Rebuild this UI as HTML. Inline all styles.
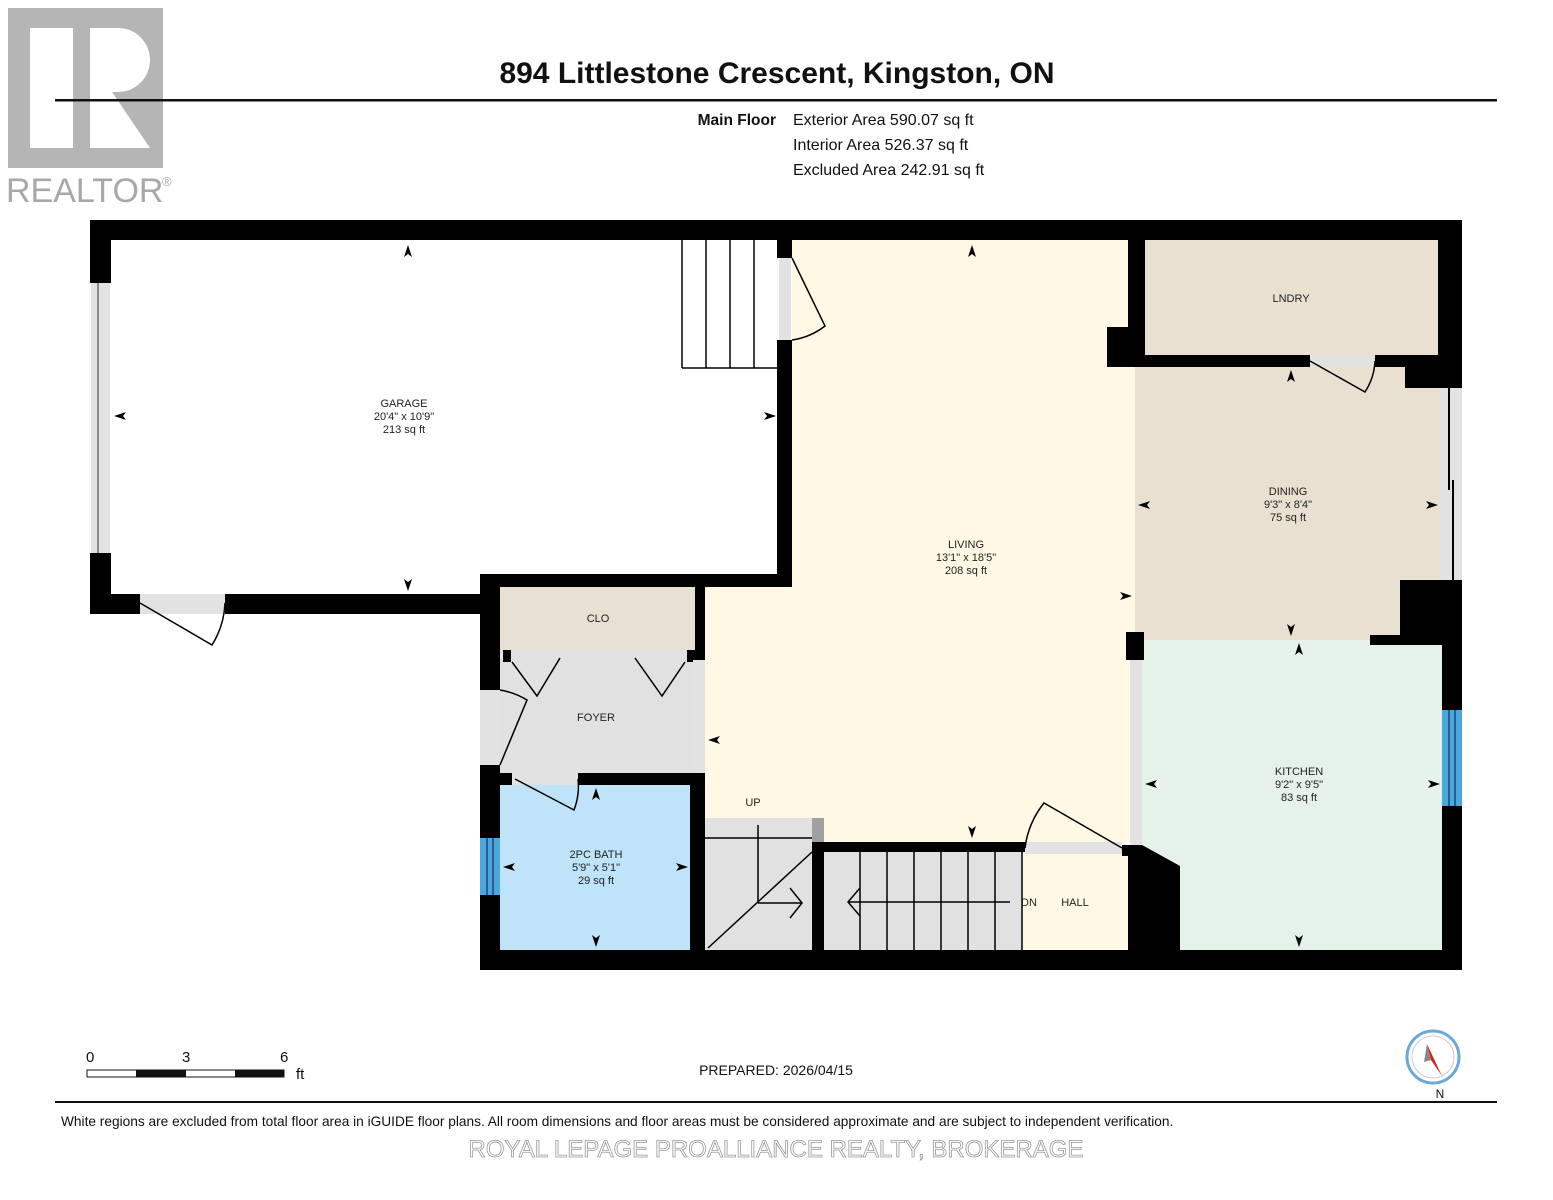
<!DOCTYPE html>
<html><head><meta charset="utf-8"><style>
body{margin:0;background:#fff;}
svg{display:block;font-family:"Liberation Sans",Arial,sans-serif;}
</style></head><body>
<svg width="1553" height="1200" viewBox="0 0 1553 1200" xmlns="http://www.w3.org/2000/svg">
<!-- realtor logo -->
<rect x="8" y="8" width="155" height="160" fill="#b5b5b5"/>
<rect x="30" y="28" width="43" height="120" fill="#fff"/>
<path d="M90 28 H118 A32 32 0 0 1 118 92 H112 L150 148 H90 Z" fill="#fff"/>
<text x="6" y="202" font-size="34" fill="#a8a8a8">REALTOR</text>
<text x="162" y="186" font-size="13" fill="#a8a8a8">®</text>
<text x="777" y="83" font-size="30" font-weight="bold" text-anchor="middle" fill="#111">894 Littlestone Crescent, Kingston, ON</text>
<rect x="55" y="99" width="1442" height="2.5" fill="#111"/>
<text x="776" y="125" font-size="15.5" font-weight="bold" text-anchor="end" fill="#111">Main Floor</text>
<text x="793" y="125" font-size="16" fill="#111">Exterior Area 590.07 sq ft</text>
<text x="793" y="150" font-size="16" fill="#111">Interior Area 526.37 sq ft</text>
<text x="793" y="175" font-size="16" fill="#111">Excluded Area 242.91 sq ft</text>

<!-- room fills -->
<rect x="792" y="240" width="343" height="602" fill="#fef8e5"/>
<rect x="705" y="584" width="430" height="258" fill="#fef8e5"/>
<rect x="1022" y="852" width="106" height="98" fill="#fef8e5"/>
<rect x="1145" y="240" width="293" height="115" fill="#e9e0d2"/>
<rect x="1135" y="367" width="305" height="273" fill="#e9e0d2"/>
<rect x="1142" y="640" width="300" height="310" fill="#e5f2ea"/>
<rect x="500" y="587" width="195" height="63" fill="#e8e0d2"/>
<rect x="500" y="650" width="195" height="123" fill="#e1e1e1"/>
<rect x="500" y="785" width="190" height="165" fill="#bfe3f9"/>
<rect x="705" y="818" width="107" height="132" fill="#e1e1e1"/>
<rect x="824" y="852" width="198" height="98" fill="#e1e1e1"/>

<!-- walls -->
<g fill="#000">
<rect x="90" y="220" width="1372" height="20"/>
<rect x="90" y="220" width="21" height="63"/>
<rect x="90" y="553" width="21" height="61"/>
<rect x="90" y="594" width="50" height="20"/>
<rect x="225" y="594" width="259" height="20"/>
<rect x="777" y="240" width="15" height="18"/>
<rect x="777" y="340" width="15" height="244"/>
<rect x="484" y="574" width="308" height="13"/>
<rect x="480" y="574" width="20" height="116"/>
<rect x="480" y="765" width="20" height="73"/>
<rect x="480" y="895" width="20" height="75"/>
<rect x="695" y="584" width="10" height="76"/>
<rect x="480" y="773" width="32" height="12"/>
<rect x="578" y="773" width="127" height="12"/>
<rect x="690" y="773" width="15" height="197"/>
<rect x="480" y="950" width="982" height="20"/>
<rect x="812" y="842" width="213" height="10"/>
<rect x="812" y="842" width="12" height="108"/>
<rect x="1128" y="240" width="17" height="125"/>
<rect x="1107" y="327" width="38" height="38"/>
<rect x="1107" y="355" width="203" height="12"/>
<rect x="1375" y="355" width="30" height="12"/>
<rect x="1438" y="220" width="24" height="168"/>
<rect x="1405" y="355" width="57" height="33"/>
<rect x="1400" y="580" width="62" height="65"/>
<rect x="1370" y="635" width="70" height="10"/>
<rect x="1442" y="645" width="20" height="65"/>
<rect x="1442" y="806" width="20" height="150"/>
<rect x="1126" y="632" width="18" height="28"/>
<path d="M1122 845 H1142 L1180 866 V950 H1128 V856 H1122 Z"/>
<rect x="503" y="650" width="8" height="12"/>
<rect x="687" y="650" width="8" height="12"/>
</g>
<!-- windows / openings -->
<rect x="91" y="283" width="19" height="270" fill="#e2e2e2"/><line x1="98" y1="283" x2="98" y2="553" stroke="#333" stroke-width="1"/>
<rect x="140" y="594" width="85" height="20" fill="#e2e2e2"/>
<rect x="779" y="258" width="12" height="82" fill="#e2e2e2"/>
<rect x="480" y="690" width="20" height="75" fill="#e2e2e2"/>
<rect x="512" y="773" width="66" height="12" fill="#e2e2e2"/>
<rect x="693" y="660" width="12" height="113" fill="#e2e2e2"/>
<rect x="480" y="838" width="20" height="57" fill="#4aa8df"/><line x1="487" y1="838" x2="487" y2="895" stroke="#114" /><line x1="493" y1="838" x2="493" y2="895" stroke="#114"/>
<rect x="1442" y="710" width="20" height="96" fill="#4aa8df"/><line x1="1449" y1="710" x2="1449" y2="806" stroke="#114"/><line x1="1455" y1="710" x2="1455" y2="806" stroke="#114"/>
<rect x="1440" y="388" width="22" height="192" fill="#e2e2e2"/><line x1="1449" y1="388" x2="1449" y2="490" stroke="#000" stroke-width="2"/><line x1="1453" y1="480" x2="1453" y2="580" stroke="#000" stroke-width="2"/>
<rect x="1310" y="355" width="65" height="12" fill="#e2e2e2"/>
<rect x="1130" y="660" width="12" height="185" fill="#e2e2e2"/>
<rect x="1025" y="842" width="97" height="12" fill="#e2e2e2"/>
<rect x="812" y="818" width="12" height="24" fill="#a0a0a0"/>

<!-- door swings -->
<g fill="none" stroke="#000" stroke-width="1.5">
<path d="M140 603 L212 645 A85 85 0 0 0 225 603"/>
<path d="M792 258 L825 326 A70 70 0 0 1 792 340"/>
<path d="M500 765 L527 700 A75 75 0 0 0 500 690"/>
<path d="M515 779 L574 810 A66 66 0 0 0 578 779"/>
<path d="M1310 361 L1365 392 A62 62 0 0 0 1375 361"/>
<path d="M1122 848 L1044 803 A90 90 0 0 0 1025 848"/>
<path d="M512 662 L537 696 L560 658"/>
<path d="M635 658 L662 696 L685 662"/>
<line x1="682" y1="240" x2="682" y2="368"/><line x1="706" y1="240" x2="706" y2="368"/><line x1="730" y1="240" x2="730" y2="368"/><line x1="754" y1="240" x2="754" y2="368"/><line x1="682" y1="368" x2="777" y2="368"/>
<line x1="705" y1="838" x2="812" y2="838"/>
<path d="M708 948 L812 852"/>
<line x1="758" y1="825" x2="758" y2="903"/><line x1="758" y1="903" x2="802" y2="903"/><path d="M790 888 L802 903 L790 918"/>
<line x1="860" y1="852" x2="860" y2="950"/><line x1="887" y1="852" x2="887" y2="950"/><line x1="914" y1="852" x2="914" y2="950"/><line x1="941" y1="852" x2="941" y2="950"/><line x1="968" y1="852" x2="968" y2="950"/><line x1="995" y1="852" x2="995" y2="950"/><line x1="1022" y1="852" x2="1022" y2="950"/>
<line x1="848" y1="902" x2="1010" y2="902"/><path d="M860 888 L848 902 L860 916"/>
</g>

<!-- dim arrows -->
<g fill="#000">
<path d="M408 245 l-4 12 l4 -3 l4 3z"/><path d="M408 591 l-4 -12 l4 3 l4 -3z"/>
<path d="M114 416 l12 -4 l-3 4 l3 4z"/><path d="M776 416 l-12 -4 l3 4 l-3 4z"/>
<path d="M972 245 l-4 12 l4 -3 l4 3z"/><path d="M972 838 l-4 -12 l4 3 l4 -3z"/>
<path d="M708 740 l12 -4 l-3 4 l3 4z"/><path d="M1132 596 l-12 -4 l3 4 l-3 4z"/>
<path d="M1291 370 l-4 12 l4 -3 l4 3z"/><path d="M1291 636 l-4 -12 l4 3 l4 -3z"/>
<path d="M1138 505 l12 -4 l-3 4 l3 4z"/><path d="M1438 505 l-12 -4 l3 4 l-3 4z"/>
<path d="M1299 643 l-4 12 l4 -3 l4 3z"/><path d="M1299 947 l-4 -12 l4 3 l4 -3z"/>
<path d="M1145 784 l12 -4 l-3 4 l3 4z"/><path d="M1440 784 l-12 -4 l3 4 l-3 4z"/>
<path d="M596 788 l-4 12 l4 -3 l4 3z"/><path d="M596 947 l-4 -12 l4 3 l4 -3z"/>
<path d="M503 867 l12 -4 l-3 4 l3 4z"/><path d="M688 867 l-12 -4 l3 4 l-3 4z"/>
</g>

<!-- labels -->
<g font-size="11" text-anchor="middle" fill="#222">
<text x="404" y="407">GARAGE</text><text x="404" y="420">20'4" x 10'9"</text><text x="404" y="433">213 sq ft</text>
<text x="966" y="548">LIVING</text><text x="966" y="561">13'1" x 18'5"</text><text x="966" y="574">208 sq ft</text>
<text x="1291" y="302">LNDRY</text>
<text x="1288" y="495">DINING</text><text x="1288" y="508">9'3" x 8'4"</text><text x="1288" y="521">75 sq ft</text>
<text x="1299" y="775">KITCHEN</text><text x="1299" y="788">9'2" x 9'5"</text><text x="1299" y="801">83 sq ft</text>
<text x="598" y="622">CLO</text>
<text x="596" y="721">FOYER</text>
<text x="596" y="858">2PC BATH</text><text x="596" y="871">5'9" x 5'1"</text><text x="596" y="884">29 sq ft</text>
<text x="753" y="806">UP</text>
<text x="1029" y="906">DN</text>
<text x="1075" y="906">HALL</text>
</g>

<!-- scale bar -->
<g font-size="15" fill="#111">
<text x="86" y="1062">0</text><text x="182" y="1062">3</text><text x="280" y="1062">6</text><text x="296" y="1079">ft</text>
</g>
<rect x="87" y="1070" width="197" height="7" fill="#fff" stroke="#111" stroke-width="1"/>
<rect x="136" y="1070" width="50" height="7" fill="#111"/>
<rect x="235" y="1070" width="49" height="7" fill="#111"/>
<text x="776" y="1075" font-size="14" text-anchor="middle" fill="#111">PREPARED: 2026/04/15</text>
<!-- compass -->
<circle cx="1433" cy="1057" r="26" fill="#fff" stroke="#6aa9d8" stroke-width="3"/>
<circle cx="1433" cy="1057" r="21" fill="#fff" stroke="#ccc" stroke-width="1"/>
<path d="M1427 1044 L1442 1076 L1431 1060 Z" fill="#d42020"/>
<path d="M1427 1044 L1431 1060 L1424 1062 Z" fill="#888"/>
<text x="1440" y="1098" font-size="12" text-anchor="middle" fill="#111">N</text>
<rect x="55" y="1101" width="1442" height="2" fill="#111"/>
<text x="61" y="1126" font-size="13.7" fill="#111">White regions are excluded from total floor area in iGUIDE floor plans. All room dimensions and floor areas must be considered approximate and are subject to independent verification.</text>
<text x="776" y="1157" font-size="24" text-anchor="middle" fill="#fff" stroke="#999" stroke-width="0.8">ROYAL LEPAGE PROALLIANCE REALTY, BROKERAGE</text>
</svg>
</body></html>
